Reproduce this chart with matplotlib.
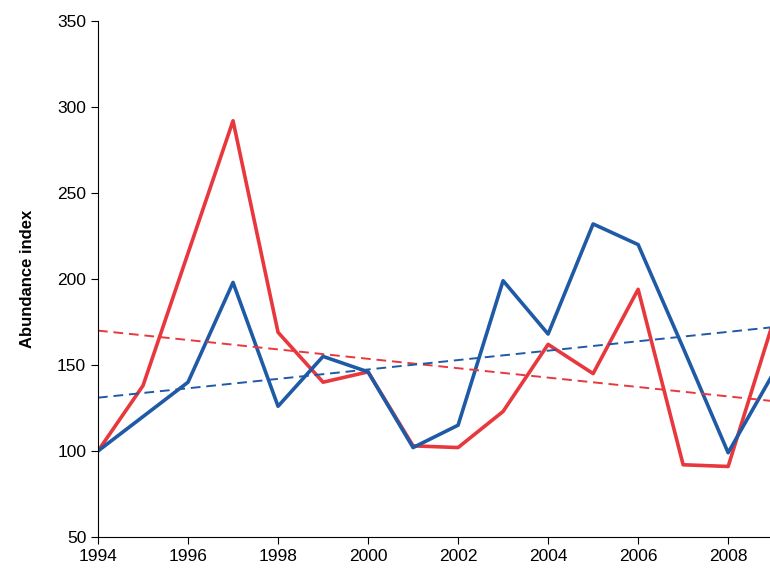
import matplotlib.pyplot as plt

plt.rcParams.update({"font.family": ["Liberation Sans", "DejaVu Sans"]})

years = list(range(1994, 2010))
red = [100, 138, 215, 292, 169, 140, 146, 103, 102, 123, 162, 145, 194, 92, 91, 175]
blue = [100, 120, 140, 198, 126, 155, 146, 102, 115, 199, 168, 232, 220, 160, 99, 145]
trend_years = [1994, 2009]
red_trend = [170, 129]
blue_trend = [131, 172]

fig = plt.figure(figsize=(7.7, 5.7), dpi=100)
ax = fig.add_axes([98 / 770, 33 / 570, 672 / 770, 516 / 570])

ax.plot(years, red, color="#e8383d", lw=2.6)
ax.plot(years, blue, color="#1f5aa6", lw=2.6)
ax.plot(trend_years, red_trend, color="#e8383d", lw=1.4, ls=(0, (5, 3)))
ax.plot(trend_years, blue_trend, color="#1f5aa6", lw=1.4, ls=(0, (5, 3)))

ax.set_xlim(1994, 2008.93)
ax.set_ylim(50, 350)
ax.set_xticks(range(1994, 2009, 2))
ax.set_yticks(range(50, 351, 50))
ax.spines["top"].set_visible(False)
ax.spines["right"].set_visible(False)
ax.tick_params(direction="out", length=5, labelsize=12.5)
ax.set_ylabel("Abundance index", fontsize=12, fontweight="bold", labelpad=16)

fig.savefig("out.png", dpi=100)
